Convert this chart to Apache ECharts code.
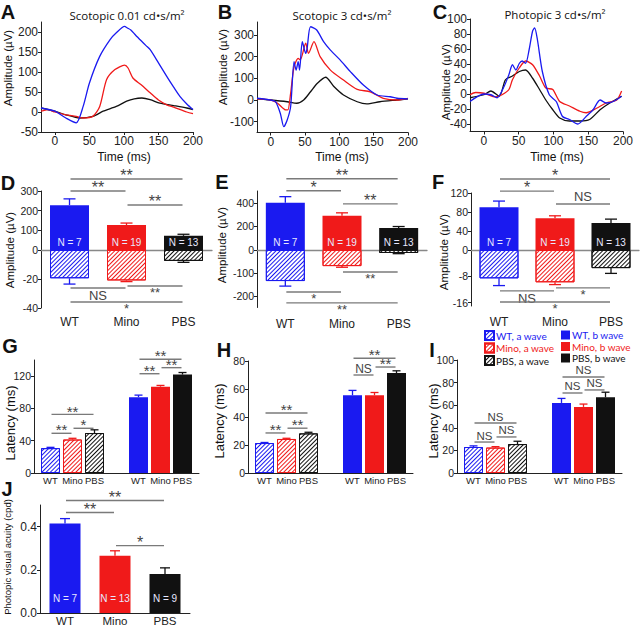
<!DOCTYPE html>
<html>
<head>
<meta charset="utf-8">
<script src="https://cdn.jsdelivr.net/npm/echarts@6/dist/echarts.min.js"></script>
<style>
html, body { margin: 0; padding: 0; background: #fff; }
#main { width: 640px; height: 627px; }
</style>
</head>
<body>
<div id="main"></div>
<script>
// ---- data ----
var groups = ['WT', 'Mino', 'PBS'];
// latency panels: two groups of three on a 15-slot axis (odd slots carry bars)
var latSlots = ['', 'WT', '', 'Mino', '', 'PBS', '', '', '', 'WT', '', 'Mino', '', 'PBS', ''];
var latNames = ['WT, a wave', 'Mino, a wave', 'PBS, a wave', 'WT, b wave', 'Mino, b wave', 'PBS, b wave'];
var latIdx = [0, 1, 2, 4, 5, 6];
var tickTime = [0, 50, 100, 150, 200];

// A: scotopic 0.01, [time ms, amplitude uV]
var aWT = [[-20,10],[0,2],[16,-15],[31,-27],[41,14],[50,72],[65,139],[80,181],[89,198],[101,214],[105,210],[110,205],[117,192],[125,178],[132,166],[138,156],[150,123],[162,89],[172,62],[181,39],[191,20],[200,6]];
var aMino = [[-20,2],[-10,6],[0,0],[16,-7],[31,-11],[41,-15],[55,-11],[65,14],[75,81],[87,106],[101,117],[106,110],[113,85],[125,68],[138,48],[150,30],[162,18],[172,12],[191,0],[200,-4]];
var aPBS = [[-20,10],[0,2],[16,-7],[36,-15],[55,-11],[70,2],[89,14],[104,27],[115,33],[126,35],[138,31],[152,22],[172,16],[191,10],[200,6]];
// B: scotopic 3
var bWT = [[-20,8],[0,0],[7,-8],[14,-62],[19,-123],[24,-92],[29,-31],[34,177],[37,138],[40,177],[42,138],[46,269],[51,215],[53,238],[58,338],[67,323],[77,269],[87,230],[101,185],[116,131],[135,69],[155,23],[174,15],[184,8],[200,5]];
var bMino = [[-20,5],[0,0],[10,-15],[22,-46],[25,-46],[29,31],[34,154],[40,192],[43,185],[51,262],[55,215],[63,269],[72,200],[87,138],[106,92],[126,49],[145,38],[164,8],[184,0],[200,8]];
var bPBS = [[-20,5],[0,0],[24,-8],[38,-15],[48,0],[58,38],[68,77],[80,105],[92,62],[106,23],[126,-8],[140,-18],[159,-8],[184,0],[200,5]];
// C: photopic 3
var cWT = [[-20,-10],[0,0],[10,-1],[19,-5],[29,10],[36,26],[41,39],[46,32],[51,41],[55,44],[60,41],[65,59],[70,84],[73,88],[77,72],[84,30],[94,-1],[104,-10],[113,-30],[123,-34],[135,-40],[147,-30],[157,-21],[167,-8],[176,-12],[186,-10],[198,-3]];
var cMino = [[-20,-1],[-12,2],[0,1],[17,-4],[26,-1],[36,6],[41,19],[51,35],[60,44],[70,39],[80,24],[89,8],[99,6],[109,-10],[123,-16],[138,-23],[147,-25],[162,-19],[176,-12],[191,-8],[198,4]];
var cPBS = [[-20,-5],[0,-1],[10,4],[22,-3],[31,19],[41,24],[51,30],[60,32],[70,21],[80,6],[89,-8],[99,-21],[109,-32],[123,-36],[138,-36],[152,-34],[167,-21],[181,-12],[198,-3]];

// D-F amplitudes (b wave positive, a wave negative) and error
var dB = [228, 127, 72], dBErr = [32, 10, 8], dA = [-19.5, -21, -7.5], dAErr = [4, 0.8, 1];
var eB = [400, 290, 187], eBErr = [52, 25, 12], eA = [-135, -70, -13], eAErr = [22, 5, 3];
var fB = [90, 67, 57], fBErr = [13, 5, 8], fA = [-8.6, -9.8, -5.5], fAErr = [2.2, 0.7, 1.6];
var nAmp = ['N = 7', 'N = 19', 'N = 13'];

// G-I latencies (index 3 is the gap between a and b wave groups)
var gLat = [30.8, 41.5, 49.5, '-', 94, 107, 122], gErr = [1, 1.5, 4, 0, 2.5, 1.5, 2.5];
var hLat = [21.4, 24.3, 28.3, '-', 55.5, 55.5, 71.4], hErr = [0.4, 0.5, 0.8, 0, 3.5, 2, 1.6];
var iLat = [23, 22.5, 25.6, '-', 62, 58.5, 67], iErr = [1, 0.8, 2.5, 0, 4, 2.5, 4.5];

// J acuity
var jAcuity = [0.414, 0.265, 0.181], jErr = [0.023, 0.023, 0.028];
var nAcuity = ['N = 7', 'N = 13', 'N = 9'];

// significance brackets [from, to, level, text]
var dSigTop = [[0,2,361,'**'],[0,1,300,'**'],[1,2,229,'**']];
var dSigBot = [[0,1,-26.2,'NS'],[1,2,-24.8,'**'],[0,2,-35.9,'*']];
var eSigTop = [[0,2,604,'**'],[0,1,502,'*'],[1,2,391,'**']];
var eSigBot = [[1,2,-95.7,'**'],[0,1,-182.6,'*'],[0,2,-230,'**']];
var fSigTop = [[0,2,149.5,'*'],[0,1,124,'*'],[1,2,97,'NS']];
var fSigBot = [[0,1,-12.4,'NS'],[1,2,-11.5,'*'],[0,2,-15.8,'*']];
var gSig = [[0,2,72.6,'**'],[0,1,49.2,'**'],[1,2,55.4,'*'],[4,6,141,'**'],[4,5,123,'**'],[5,6,130.5,'**']];
var hSig = [[0,2,42.9,'**'],[0,1,28.6,'**'],[1,2,32,'**'],[4,6,82,'**'],[4,5,70,'NS'],[5,6,75.7,'**']];
var iSig = [[0,2,44.2,'NS'],[0,1,27.4,'NS'],[1,2,31.9,'NS'],[4,6,85,'NS'],[4,5,70.8,'NS'],[5,6,73.5,'NS']];
var jSig = [[0,2,0.521,'**'],[0,1,0.465,'**'],[1,2,0.312,'*']];

// ---- styles ----
var FONT = 'Liberation Sans, Arial, sans-serif';
var BLUE = '#1a1af0', RED = '#f01a1a', BLACK = '#111111';
var cols = [BLUE, RED, BLACK];
var latCols = [BLUE, RED, BLACK, BLACK, BLUE, RED, BLACK];

function hatch(c) {
    return {
        color: '#ffffff', borderColor: c, borderWidth: 1,
        decal: { symbol: 'rect', symbolSize: 1, dashArrayX: [1, 0], dashArrayY: [1, 2], rotation: -Math.PI / 4, color: c }
    };
}

var chart = echarts.init(document.getElementById('main'), null, { renderer: 'svg' });

// grids: A B C | D+ D- E+ E- F+ F- | G H I | J
var grids = [
    [41, 22, 152, 110], [257, 22, 151, 110.5], [470, 19, 153, 112.5],
    [41, 191, 171, 59], [41, 250, 171, 58],
    [257, 191, 170, 59], [257, 250, 170, 57.5],
    [471, 193, 168, 57], [471, 250, 168, 56],
    [34, 360, 165, 113], [248, 361, 165, 112], [457, 360, 165, 113],
    [40, 505, 150, 108]
];

function yVal(gi, min, max, ticks, fs) {
    return {
        type: 'value', gridIndex: gi, min: min, max: max,
        splitLine: { show: false },
        axisLine: { show: true, onZero: false, lineStyle: { color: '#222', width: 1 } },
        axisTick: { show: true, length: 3, customValues: ticks, lineStyle: { color: '#222' } },
        axisLabel: { customValues: ticks, fontSize: fs, color: '#222', fontFamily: FONT, margin: 3 }
    };
}

function xTime(gi) {
    return {
        type: 'value', gridIndex: gi, min: -20, max: 200,
        splitLine: { show: false },
        axisLine: { show: true, onZero: false, lineStyle: { color: '#222' } },
        axisTick: { show: true, length: 3, customValues: tickTime, lineStyle: { color: '#222' } },
        axisLabel: { customValues: tickTime, fontSize: 12, color: '#222', fontFamily: FONT, margin: 3 }
    };
}

function xCat(gi, cats, line, label) {
    return {
        type: 'category', gridIndex: gi, data: cats,
        axisLine: line ? { show: true, onZero: false, lineStyle: line } : { show: false },
        axisTick: { show: false },
        axisLabel: label ? label : { show: false },
        splitLine: { show: false }
    };
}

function catLabel(fs, margin) {
    return { fontSize: fs, color: '#222', fontFamily: FONT, margin: margin, interval: 0, lineHeight: fs };
}

var xAxes = [
    xTime(0), xTime(1), xTime(2),
    xCat(3, groups, { color: '#888', width: 1.3 }), xCat(4, groups, null, catLabel(12, 8)),
    xCat(5, groups, { color: '#888', width: 1.3 }), xCat(6, groups, null, catLabel(12, 10)),
    xCat(7, groups, { color: '#888', width: 1.3 }), xCat(8, groups, null, catLabel(12, 10)),
    xCat(9, latSlots, { color: '#222' }, catLabel(9.5, 3)),
    xCat(10, latSlots, { color: '#222' }, catLabel(9.5, 3)),
    xCat(11, latSlots, { color: '#222' }, catLabel(9.5, 3)),
    xCat(12, groups, { color: '#222' }, catLabel(11.5, 2))
];

var yAxes = [
    yVal(0, -50, 225, [-50, 0, 50, 100, 150, 200], 12),
    yVal(1, -150, 360, [-100, 0, 100, 200, 300], 12),
    yVal(2, -50, 100, [-40, -20, 0, 20, 40, 60, 80, 100], 12),
    yVal(3, 0, 300, [0, 100, 200, 300], 10.5), yVal(4, -40, 0, [-40, -20], 10.5),
    yVal(5, 0, 500, [0, 200, 400], 10.5), yVal(6, -250, 0, [-200, -100], 10.5),
    yVal(7, 0, 120, [0, 40, 80, 120], 10.5), yVal(8, -17, 0, [-16, -8], 10.5),
    yVal(9, 0, 140, [0, 40, 80, 120], 10.5),
    yVal(10, 0, 80, [0, 20, 40, 60, 80], 10.5),
    yVal(11, 0, 100, [0, 20, 40, 60, 80, 100], 10.5),
    yVal(12, 0, 0.5, [0, 0.2, 0.4], 12)
];
yAxes[12].axisLabel.formatter = function (v) { return v.toFixed(1); };

// group index -> axis position (latency panels use odd slots)
function plainPos(j) { return j; }
function slotPos(j) { return 2 * j + 1; }

function lineSeries(gi, data, c) {
    return {
        type: 'line', xAxisIndex: gi, yAxisIndex: gi, data: data, showSymbol: false,
        smooth: 0.25, lineStyle: { color: c, width: 1.3 }, itemStyle: { color: c }, silent: true
    };
}

function errSeries(gi, vals, errs, colors, half, pos) {
    var data = [];
    vals.forEach(function (v, i) { if (typeof v === 'number') data.push([pos(i), v, errs[i], i]); });
    return {
        type: 'custom', xAxisIndex: gi, yAxisIndex: gi, clip: false, silent: true, data: data,
        encode: { x: 0, y: 1 },
        renderItem: function (params, api) {
            var x = api.value(0), v = api.value(1), e = api.value(2), c = colors[api.value(3)];
            var end = v < 0 ? v - e : v + e;
            var p0 = api.coord([x, v]), p1 = api.coord([x, end]);
            return {
                type: 'group', children: [
                    { type: 'line', shape: { x1: p0[0], y1: p0[1], x2: p1[0], y2: p1[1] }, style: { stroke: c, lineWidth: 1.3 } },
                    { type: 'line', shape: { x1: p1[0] - half, y1: p1[1], x2: p1[0] + half, y2: p1[1] }, style: { stroke: c, lineWidth: 1.3 } }
                ]
            };
        }
    };
}

function sigSeries(gi, list, down, fs, pos) {
    return {
        type: 'custom', xAxisIndex: gi, yAxisIndex: gi, clip: false, silent: true, z: 5,
        data: list.map(function (b) { return [pos(b[0]), pos(b[1]), b[2]]; }),
        encode: { x: [0, 1], y: 2 },
        renderItem: function (params, api) {
            var b = list[params.dataIndex];
            var p0 = api.coord([api.value(0), api.value(2)]), p1 = api.coord([api.value(1), api.value(2)]);
            var y = p0[1];
            var star = b[3].indexOf('*') >= 0;
            var st = { text: b[3], align: 'center', fontFamily: FONT, fill: '#444' };
            var ty;
            if (star) {
                st.verticalAlign = 'middle';
                if (down) { st.fontSize = fs; ty = y + 6.5; }
                else { st.fontSize = fs + 3; ty = y - 3.4; }
            } else {
                st.fontSize = fs; st.verticalAlign = down ? 'top' : 'bottom';
                ty = down ? y + 1.5 : y - 0.5;
            }
            return {
                type: 'group', children: [
                    { type: 'line', shape: { x1: p0[0] + 1, y1: y, x2: p1[0] - 1, y2: y }, style: { stroke: '#7a7a7a', lineWidth: 1.4 } },
                    { type: 'text', x: (p0[0] + p1[0]) / 2, y: ty, style: st }
                ]
            };
        }
    };
}

function ampSeries(gTop, gBot, bVals, bErr, aVals, aErr) {
    return [
        {
            type: 'bar', xAxisIndex: gTop, yAxisIndex: gTop, barWidth: 39, silent: true,
            data: bVals.map(function (v, i) { return { value: v, itemStyle: { color: cols[i] } }; }),
            label: {
                show: true, position: 'insideBottom', distance: 3, color: '#e8e8ff', fontSize: 10, fontFamily: FONT,
                formatter: function (p) { return nAmp[p.dataIndex]; }
            }
        },
        {
            type: 'bar', xAxisIndex: gBot, yAxisIndex: gBot, barWidth: 39, silent: true,
            data: aVals.map(function (v, i) { return { value: v, itemStyle: hatch(cols[i]) }; })
        },
        errSeries(gTop, bVals, bErr, cols, 6, plainPos),
        errSeries(gBot, aVals, aErr, cols, 6, plainPos)
    ];
}

function latSeries(gi, vals, errs) {
    var out = [];
    latIdx.forEach(function (ci, k) {
        var data = latSlots.map(function () { return '-'; });
        data[slotPos(ci)] = vals[ci];
        out.push({
            type: 'bar', name: latNames[k], xAxisIndex: gi, yAxisIndex: gi, barWidth: 19, barGap: '-100%', silent: true,
            data: data,
            itemStyle: k < 3 ? hatch(cols[k]) : { color: cols[k - 3] }
        });
    });
    out.push(errSeries(gi, vals, errs, latCols, 4, slotPos));
    return out;
}

var series = [
    lineSeries(0, aPBS, BLACK), lineSeries(0, aMino, RED), lineSeries(0, aWT, BLUE),
    lineSeries(1, bPBS, BLACK), lineSeries(1, bMino, RED), lineSeries(1, bWT, BLUE),
    lineSeries(2, cPBS, BLACK), lineSeries(2, cMino, RED), lineSeries(2, cWT, BLUE)
];
series = series.concat(ampSeries(3, 4, dB, dBErr, dA, dAErr));
series = series.concat(ampSeries(5, 6, eB, eBErr, eA, eAErr));
series = series.concat(ampSeries(7, 8, fB, fBErr, fA, fAErr));
series = series.concat(latSeries(9, gLat, gErr));
series = series.concat(latSeries(10, hLat, hErr));
series = series.concat(latSeries(11, iLat, iErr));
series.push({
    type: 'bar', xAxisIndex: 12, yAxisIndex: 12, barWidth: 31, silent: true,
    data: jAcuity.map(function (v, i) { return { value: v, itemStyle: { color: cols[i] } }; }),
    label: {
        show: true, position: 'insideBottom', distance: 10, color: '#e8e8ff', fontSize: 10, fontFamily: FONT,
        formatter: function (p) { return nAcuity[p.dataIndex]; }
    }
});
series.push(errSeries(12, jAcuity, jErr, cols, 5, plainPos));
series.push(sigSeries(3, dSigTop, false, 13, plainPos), sigSeries(4, dSigBot, true, 13, plainPos));
series.push(sigSeries(5, eSigTop, false, 13, plainPos), sigSeries(6, eSigBot, true, 13, plainPos));
series.push(sigSeries(7, fSigTop, false, 13, plainPos), sigSeries(8, fSigBot, true, 13, plainPos));
series.push(sigSeries(9, gSig, false, 12, slotPos), sigSeries(10, hSig, false, 12, slotPos), sigSeries(11, iSig, false, 11.5, slotPos));
series.push(sigSeries(12, jSig, false, 13, plainPos));

// text: panel letters, titles, axis names
function txt(s, x, y, size, opts) {
    var el = { type: 'text', x: x, y: y, silent: true, style: { text: s, fontSize: size, fontFamily: FONT, fill: '#111', align: 'center', verticalAlign: 'middle' } };
    if (opts && opts.bold) el.style.fontWeight = 'bold';
    if (opts && opts.rot) el.rotation = Math.PI / 2;
    if (opts && opts.family) el.style.fontFamily = opts.family;
    return el;
}
var letters = [['A', 8, 12], ['B', 225, 12], ['C', 440, 12], ['D', 8, 183], ['E', 222, 182], ['F', 438, 182],
    ['G', 10, 346], ['H', 224, 350], ['I', 432, 350], ['J', 7, 489]];
var texts = letters.map(function (l) { return txt(l[0], l[1], l[2], 20, { bold: true }); });
texts.push(
    txt('Scotopic 0.01 cd\u2022s/m\u00b2', 127, 15, 11.5, { family: 'Open Sans' }),
    txt('Scotopic 3 cd\u2022s/m\u00b2', 342, 15, 11.5, { family: 'Open Sans' }),
    txt('Photopic 3 cd\u2022s/m\u00b2', 555, 14, 11.5, { family: 'Open Sans' }),
    txt('Time (ms)', 124, 157, 12), txt('Time (ms)', 342, 157, 12), txt('Time (ms)', 557, 157, 12),
    txt('Amplitude (\u00b5V)', 8, 68, 11.5, { rot: true }), txt('Amplitude (\u00b5V)', 223, 67, 11.5, { rot: true }),
    txt('Amplitude (\u00b5V)', 446, 82, 11.5, { rot: true }),
    txt('Amplitude (\u00b5V)', 10, 250, 11.5, { rot: true }), txt('Amplitude (\u00b5V)', 222, 245, 11.5, { rot: true }),
    txt('Amplitude (\u00b5V)', 444, 252, 11.5, { rot: true }),
    txt('Latency (ms)', 10, 423, 13, { rot: true }), txt('Latency (ms)', 219, 421, 13, { rot: true }),
    txt('Latency (ms)', 433, 421, 13, { rot: true }),
    txt('Photopic visual acuity (cpd)', 7, 557, 9.5, { rot: true })
);

function legendBox(left, names) {
    return {
        left: left, top: 330, orient: 'vertical', itemWidth: 9, itemHeight: 9, itemGap: 1.5, padding: 0,
        icon: 'rect', selectedMode: false,
        textStyle: { fontSize: 10, fontFamily: 'Lato', padding: [0, 0, 0, -3], lineHeight: 9 },
        data: names.map(function (n, i) { return { name: n, textStyle: { color: cols[i] } }; })
    };
}

chart.setOption({
    animation: false,
    backgroundColor: '#fff',
    grid: grids.map(function (g) { return { left: g[0], top: g[1], width: g[2], height: g[3], outerBoundsMode: 'none' }; }),
    xAxis: xAxes,
    yAxis: yAxes,
    legend: [legendBox(484, latNames.slice(0, 3)), legendBox(561, latNames.slice(3))],
    graphic: { elements: texts },
    series: series
});
</script>
</body>
</html>
